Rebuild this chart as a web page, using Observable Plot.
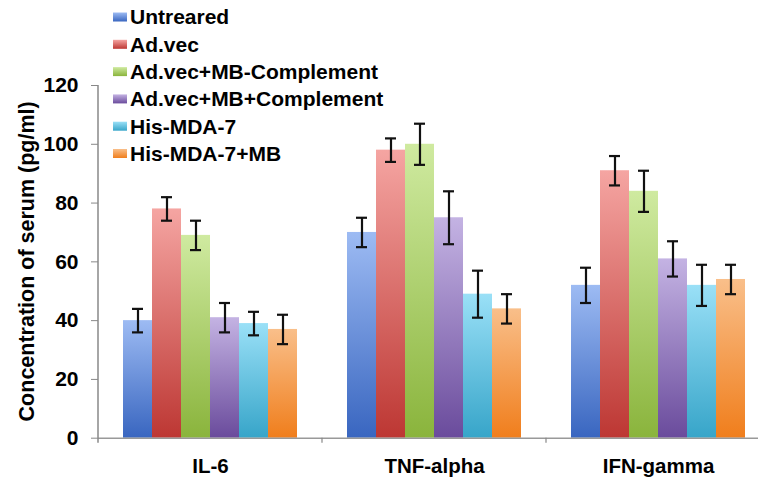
<!DOCTYPE html>
<html><head><meta charset="utf-8">
<script src="https://cdn.jsdelivr.net/npm/d3@7"></script>
<script src="https://cdn.jsdelivr.net/npm/@observablehq/plot@0.6"></script>
<style>
html,body{margin:0;padding:0;background:#fff;overflow:hidden;}
#wrap{position:relative;width:758px;height:483px;overflow:hidden;}
#wrap svg{max-width:none !important;}
</style></head><body><div id="wrap"></div>
<script>
const cytokines = ["IL-6", "TNF-alpha", "IFN-gamma"];
const series = ["Untreared", "Ad.vec", "Ad.vec+MB-Complement", "Ad.vec+MB+Complement", "His-MDA-7", "His-MDA-7+MB"];
const il6 = [40, 78, 69, 41, 39, 37];
const il6Err = [4, 4, 5, 5, 4, 5];
const tnf = [70, 98, 100, 75, 49, 44];
const tnfErr = [5, 4, 7, 9, 8, 5];
const ifn = [52, 91, 84, 61, 52, 54];
const ifnErr = [6, 5, 7, 6, 7, 5];
const yTicks = [0, 20, 40, 60, 80, 100, 120];
const yLabel = "Concentration of serum (pg/ml)";
const gradTop = ["#9dbbf3", "#f5a5a2", "#cfeaa0", "#c4b3e3", "#9ae0f7", "#f9bf8a"];
const gradBottom = ["#3966c0", "#bd3733", "#8ab43c", "#6a4b9c", "#37a5c9", "#f07e1c"];

const values = [il6, tnf, ifn];
const errs = [il6Err, tnfErr, ifnErr];
const rows = cytokines.flatMap((c, ci) => series.map((s, si) => ({
  cytokine: c, series: s, value: values[ci][si], err: errs[ci][si], fill: `url(#g${si})`
})));

const font = "'Liberation Sans', Arial, sans-serif";
const chart = Plot.plot({
  width: 770, height: 483,
  marginLeft: 97, marginRight: 0, marginTop: 85, marginBottom: 45.3,
  style: {fontFamily: font, background: "#fff", color: "#000", maxWidth: "none"},
  fx: {domain: cytokines, padding: 0},
  x: {domain: series, paddingInner: 0, paddingOuter: 0.78, axis: null},
  y: {domain: [0, 120]},
  color: {type: "identity"},
  marks: [
    Plot.barY(rows, {fx: "cytokine", x: "series", y: "value", fill: "fill"}),
    Plot.ruleY([0], {stroke: "#999", strokeWidth: 1.5}),
    Plot.ruleX(rows, {fx: "cytokine", x: "series", y1: d => d.value - d.err, y2: d => d.value + d.err, stroke: "#111", strokeWidth: 2.2}),
    Plot.tickY(rows, {fx: "cytokine", x: "series", y: d => d.value + d.err, stroke: "#111", strokeWidth: 2.2, insetLeft: 9, insetRight: 9}),
    Plot.tickY(rows, {fx: "cytokine", x: "series", y: d => d.value - d.err, stroke: "#111", strokeWidth: 2.2, insetLeft: 9, insetRight: 9}),
    Plot.axisY({ticks: yTicks, tickSize: 7, tickPadding: 13, fontSize: 21, fontWeight: "bold", stroke: "#888", fill: "#000", label: null}),
    Plot.axisFx({anchor: "bottom", tickSize: 0, tickPadding: 20, fontSize: 20.5, fontWeight: "bold", fill: "#000", label: null})
  ]
});

const svg = d3.select(chart);
const defs = svg.insert("defs", ":first-child");
series.forEach((s, i) => {
  const g = defs.append("linearGradient").attr("id", `g${i}`).attr("x1", 0).attr("y1", 0).attr("x2", 0).attr("y2", 1);
  g.append("stop").attr("offset", "0%").attr("stop-color", gradTop[i]);
  g.append("stop").attr("offset", "100%").attr("stop-color", gradBottom[i]);
});

const ys = chart.scale("y");
const fxs = chart.scale("fx");
const y0 = ys.apply(0), y120 = ys.apply(120);
const xLeft = fxs.apply(cytokines[0]);
const step = fxs.apply(cytokines[1]) - fxs.apply(cytokines[0]);
const extra = svg.append("g");
extra.append("line").attr("x1", xLeft).attr("x2", xLeft).attr("y1", y120).attr("y2", y0 + 5)
  .attr("stroke", "#888").attr("stroke-width", 1.5);
cytokines.forEach((c, i) => {
  const xb = fxs.apply(c) + step;
  extra.append("line").attr("x1", xb).attr("x2", xb).attr("y1", y0).attr("y2", y0 + 5)
    .attr("stroke", "#888").attr("stroke-width", 1.2);
});
extra.append("text").attr("transform", `translate(26,${(y0 + y120) / 2}) rotate(-90)`)
  .attr("text-anchor", "middle").attr("dy", "0.35em")
  .attr("font-family", font).attr("font-size", 21.5).attr("font-weight", "bold").attr("fill", "#000")
  .text(yLabel);

const leg = svg.append("g").attr("text-anchor", "start");
series.forEach((s, i) => {
  const cy = 17 + i * 27.3;
  leg.append("rect").attr("x", 113).attr("y", cy - 4.5).attr("width", 14).attr("height", 9).attr("fill", `url(#g${i})`);
  leg.append("text").attr("x", 130).attr("y", cy).attr("dy", "0.35em").attr("text-anchor", "start")
    .attr("font-family", font).attr("font-size", 21).attr("font-weight", "bold").attr("fill", "#000")
    .text(s);
});

document.getElementById("wrap").appendChild(chart);
</script></body></html>
